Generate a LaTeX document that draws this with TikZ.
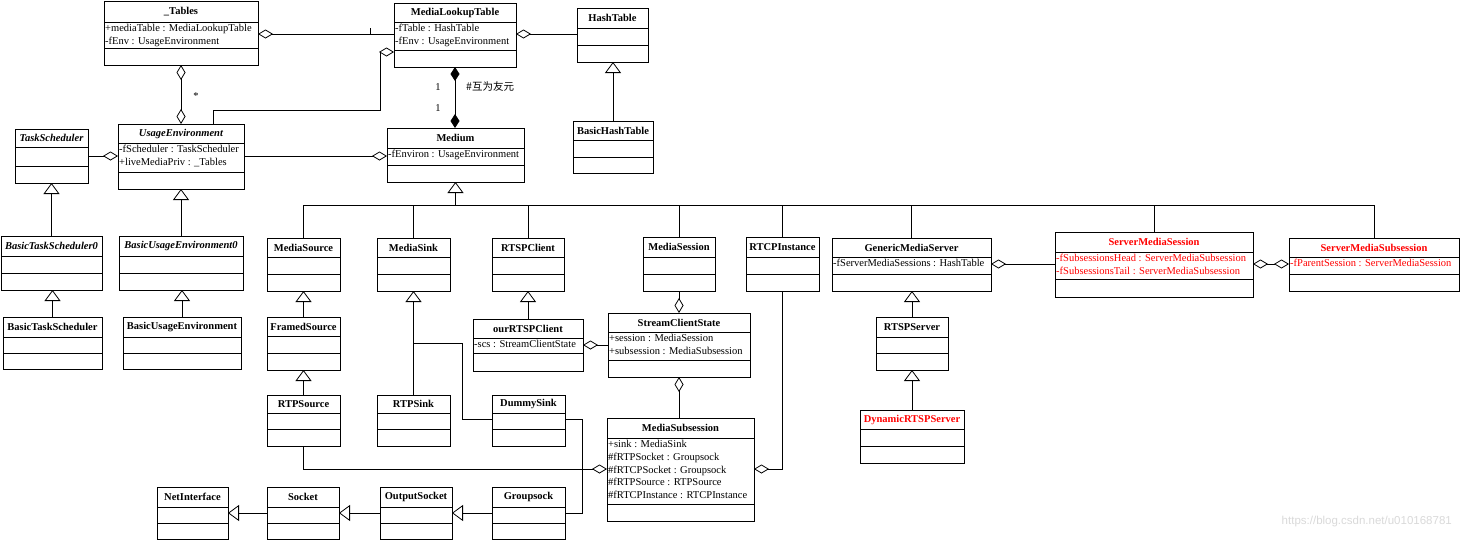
\documentclass[tikz,border=0pt]{standalone}
\usepackage{fontspec}
\setmainfont{Liberation Serif}
\newfontfamily\cjk{Noto Sans CJK SC}
\newfontfamily\wmfont{Liberation Sans}
\usetikzlibrary{arrows.meta}
\definecolor{umlred}{RGB}{255,0,0}

\tikzset{
  classbox/.style={draw, rectangle, inner sep=0pt, outer sep=0pt, line width=0.9pt},
  classline/.style={line width=0.9pt},
  classtitle/.style={inner sep=0pt, font=\fontsize{10.5}{12}\selectfont\bfseries},
  classattr/.style={anchor=north west, align=left, inner xsep=1pt, inner ysep=2.4pt,
    font=\fontsize{10.5}{12.7}\selectfont},
  mult/.style={inner sep=0pt, font=\fontsize{10.5}{12}\selectfont},
  link/.style={line width=0.8pt},
  gen/.style={link, -{Triangle[open, length=11pt, width=16pt]}},
  aggr/.style={link, -{Diamond[open, length=15pt, width=9pt]}},
  aggrboth/.style={link, {Diamond[open, length=15pt, width=9pt]}-{Diamond[open, length=15pt, width=9pt]}},
  compboth/.style={link, {Diamond[length=14pt, width=9pt]}-{Diamond[length=14pt, width=9pt]}},
}

% name, left, top, right, bottom, title line, attribute line, title, attributes
\newcommand{\umlclass}[9]{%
  \node[classbox, minimum width={(#4)-(#2)}, minimum height={(#5)-(#3)}] (#1)
    at ({((#2)+(#4))/2},{((#3)+(#5))/2}) {};
  \draw[classline] (#2,#6) -- (#4,#6) (#2,#7) -- (#4,#7);
  \node[classtitle] at ({((#2)+(#4))/2},{((#3)+(#6))/2}) {#8};
  \node[classattr] at (#2,#6) {#9};
}
\newcommand{\red}[1]{\textcolor{umlred}{#1}}

\begin{document}
\begin{tikzpicture}[x=1pt, y=-1pt]
  \useasboundingbox (0,0) rectangle (1460,541);

  % Tabellen und Umgebung
  \umlclass{tables}{104}{1}{258}{65}{22}{48}{\_Tables}{+mediaTable : MediaLookupTable\\-fEnv : UsageEnvironment}
  \umlclass{mlt}{394}{3}{516}{67}{22}{50}{MediaLookupTable}{-fTable : HashTable\\-fEnv : UsageEnvironment}
  \umlclass{hash}{577}{8}{648}{62}{28}{45}{HashTable}{}
  \umlclass{bhash}{573}{121}{653}{173}{140}{157}{BasicHashTable}{}
  \umlclass{medium}{387}{128}{524}{182}{148}{165}{Medium}{-fEnviron : UsageEnvironment}
  \umlclass{task}{15}{129}{88}{183}{147}{166}{\itshape TaskScheduler}{}
  \umlclass{usage}{118}{124}{244}{189}{143}{172}{\itshape UsageEnvironment}{-fScheduler : TaskScheduler\\+liveMediaPriv : \_Tables}
  \umlclass{btask0}{1}{236}{102}{290}{256}{273}{\itshape BasicTaskScheduler0}{}
  \umlclass{busage0}{119}{236}{243}{290}{256}{273}{\itshape BasicUsageEnvironment0}{}
  \umlclass{btask}{3}{317}{102}{369}{337}{353}{BasicTaskScheduler}{}
  \umlclass{busage}{123}{317}{241}{369}{337}{353}{BasicUsageEnvironment}{}

  % Unterklassen von Medium
  \umlclass{msource}{267}{238}{340}{291}{257}{274}{MediaSource}{}
  \umlclass{msink}{377}{238}{450}{291}{257}{274}{MediaSink}{}
  \umlclass{rtspc}{492}{238}{564}{291}{257}{274}{RTSPClient}{}
  \umlclass{msession}{643}{237}{715}{291}{257}{274}{MediaSession}{}
  \umlclass{rtcp}{746}{237}{819}{291}{257}{274}{RTCPInstance}{}
  \umlclass{gms}{832}{238}{991}{291}{257}{274}{GenericMediaServer}{-fServerMediaSessions : HashTable}
  \umlclass{sms}{1055}{232}{1253}{297}{252}{279}{\red{ServerMediaSession}}{\red{-fSubsessionsHead : ServerMediaSubsession}\\\red{-fSubsessionsTail : ServerMediaSubsession}}
  \umlclass{smsub}{1289}{238}{1459}{291}{257}{274}{\red{ServerMediaSubsession}}{\red{-fParentSession : ServerMediaSession}}

  \umlclass{fsource}{267}{317}{340}{370}{336}{353}{FramedSource}{}
  \umlclass{ourrtsp}{473}{319}{583}{371}{338}{353}{ourRTSPClient}{-scs : StreamClientState}
  \umlclass{scs}{608}{313}{750}{377}{332}{360}{StreamClientState}{+session : MediaSession\\+subsession : MediaSubsession}
  \umlclass{rtpsource}{267}{395}{340}{446}{413}{429}{RTPSource}{}
  \umlclass{rtpsink}{377}{395}{450}{446}{413}{429}{RTPSink}{}
  \umlclass{dummy}{492}{395}{565}{446}{413}{429}{DummySink}{}
  \umlclass{msub}{607}{418}{754}{521}{438}{504}{MediaSubsession}{+sink : MediaSink\\\#fRTPSocket : Groupsock\\\#fRTCPSocket : Groupsock\\\#fRTPSource : RTPSource\\\#fRTCPInstance : RTCPInstance}
  \umlclass{rtspserver}{876}{317}{948}{370}{337}{353}{RTSPServer}{}
  \umlclass{dynserver}{860}{410}{964}{463}{429}{446}{\red{DynamicRTSPServer}}{}

  % Sockets
  \umlclass{netif}{157}{487}{228}{539}{507}{523}{NetInterface}{}
  \umlclass{socket}{267}{487}{339}{539}{507}{523}{Socket}{}
  \umlclass{outsock}{380}{487}{452}{539}{507}{523}{OutputSocket}{}
  \umlclass{gsock}{492}{487}{565}{539}{507}{523}{Groupsock}{}

  % _Tables -- MediaLookupTable -- UsageEnvironment
  \draw[aggr] (mlt.west |- 0,34) -- (tables.east |- 0,34);
  \draw[link] (370,28) -- (370,34);
  \draw[aggrboth] (tables.south) -- (tables.south |- usage.north);
  \node[mult] (star) at (196,96) {*};
  \draw[aggr] (213,0 |- usage.north) -- (213,110) -- (380,110) -- (380,52) -- (mlt.west |- 0,52);

  % MediaLookupTable -- Medium
  \draw[compboth] (mlt.south) -- (mlt.south |- medium.north);
  \node[mult] (one1) at (438,87) {1};
  \node[mult] (one2) at (438,108) {1};
  \node[mult, anchor=west, font=\cjk\fontsize{10.5}{12}\selectfont] (friend) at (466,87) {\#互为友元};

  % HashTable
  \draw[aggr] (hash.west |- 0,34) -- (mlt.east |- 0,34);
  \draw[gen] (bhash.north) -- (bhash.north |- hash.south);

  % TaskScheduler, UsageEnvironment
  \draw[aggr] (task.east |- 0,156) -- (usage.west |- 0,156);
  \draw[aggr] (usage.east |- 0,156) -- (medium.west |- 0,156);
  \draw[gen] (btask0.north) -- (btask0.north |- task.south);
  \draw[gen] (btask.north) -- (btask.north |- btask0.south);
  \draw[gen] (busage0.north) -- (busage0.north |- usage.south);
  \draw[gen] (busage.north) -- (busage.north |- busage0.south);

  % Vererbung von Medium
  \draw[gen] (medium.south |- 0,205) -- (medium.south);
  \draw[link] (msource.north) |- (smsub.north |- 0,205) -- (smsub.north);
  \foreach \c in {msink, rtspc, msession, rtcp, gms, sms}
    \draw[link] (\c.north) -- (\c.north |- 0,205);

  % Quellen und Senken
  \draw[gen] (fsource.north) -- (fsource.north |- msource.south);
  \draw[gen] (rtpsource.north) -- (rtpsource.north |- fsource.south);
  \draw[gen] (rtpsink.north) -- (rtpsink.north |- msink.south);
  \draw[link] (dummy.west |- 0,419) -| (462,343) -- (rtpsink.north |- 0,343);
  \draw[gen] (ourrtsp.north) -- (ourrtsp.north |- rtspc.south);

  % StreamClientState
  \draw[aggr] (msession.south) -- (msession.south |- scs.north);
  \draw[aggr] (scs.west |- 0,345) -- (ourrtsp.east |- 0,345);
  \draw[aggr] (scs.south |- msub.north) -- (scs.south);

  % MediaSubsession
  \draw[aggr] (rtcp.south) |- (msub.east |- 0,469);
  \draw[aggr] (rtpsource.south) |- (msub.west |- 0,469);
  \draw[link] (dummy.east |- 0,419) -| (582,469);
  \draw[link] (gsock.east |- 0,513) -| (582,469);

  % Sockets
  \draw[gen] (gsock.west |- 0,513) -- (outsock.east |- 0,513);
  \draw[gen] (outsock.west |- 0,513) -- (socket.east |- 0,513);
  \draw[gen] (socket.west |- 0,513) -- (netif.east |- 0,513);

  % Server
  \draw[aggr] (sms.west |- 0,264) -- (gms.east |- 0,264);
  \draw[aggrboth] (sms.east |- 0,264) -- (smsub.west |- 0,264);
  \draw[gen] (rtspserver.north) -- (rtspserver.north |- gms.south);
  \draw[gen] (dynserver.north) -- (dynserver.north |- rtspserver.south);

  \node[anchor=east, inner sep=0pt, text=gray!30, font=\wmfont\fontsize{11.5}{13}\selectfont] (mark)
    at (1452,522) {https://blog.csdn.net/u010168781};
\end{tikzpicture}
\end{document}
